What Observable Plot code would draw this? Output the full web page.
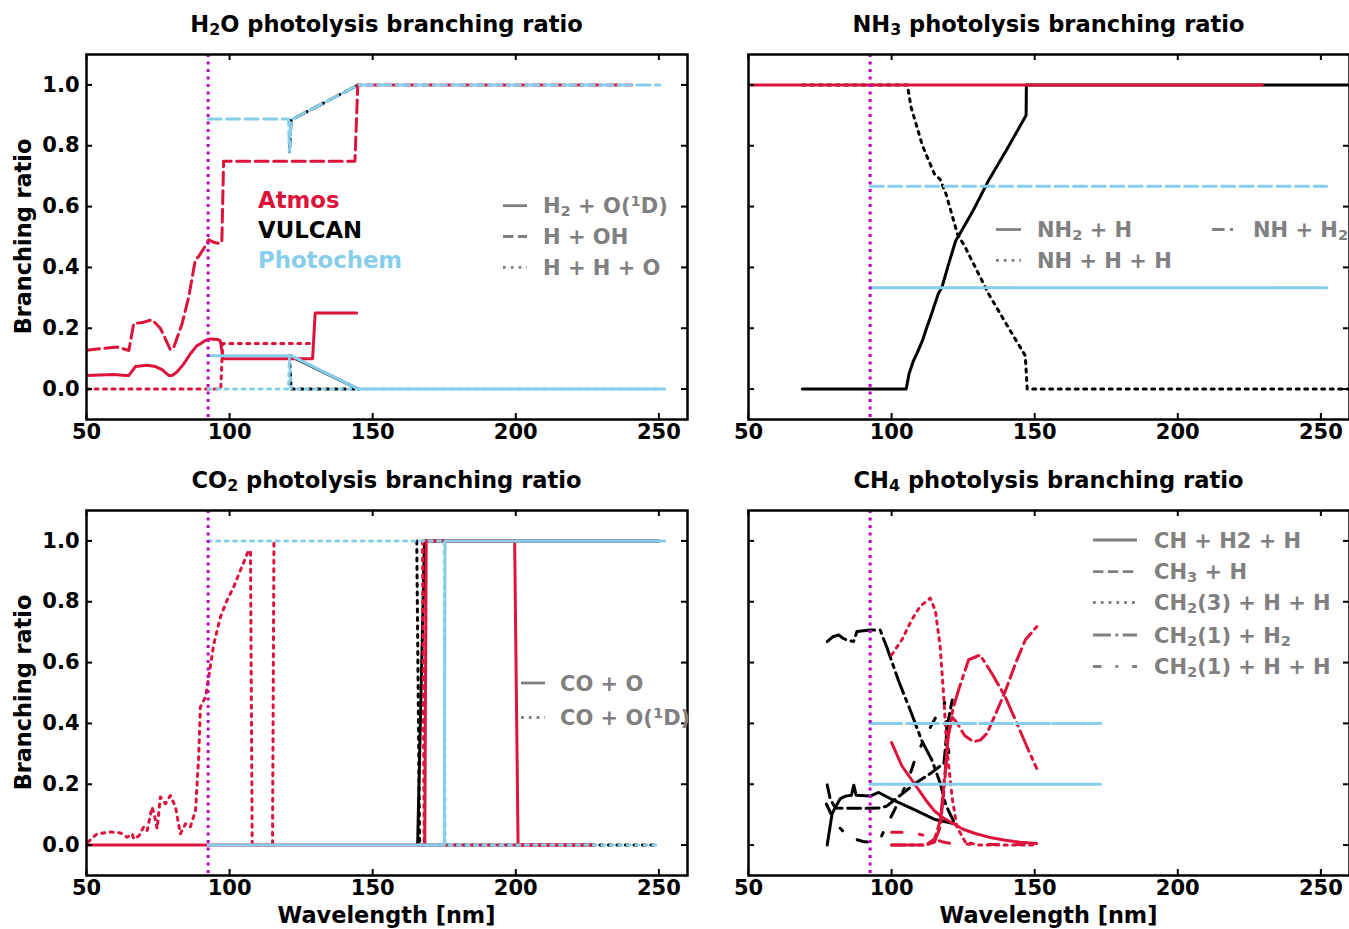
<!DOCTYPE html>
<html>
<head>
<meta charset="utf-8">
<script src="https://cdn.jsdelivr.net/npm/d3@7"></script>
<script src="https://cdn.jsdelivr.net/npm/@observablehq/plot@0.6"></script>
<style>
  html, body { margin: 0; padding: 0; background: #fff; overflow: hidden; }
  #fig { position: relative; width: 1349px; height: 929px; overflow: hidden; background: #fff; }
  #fig svg { position: absolute; overflow: visible; }
</style>
</head>
<body>
<div id="fig"></div>
<script>
// ---------------------------------------------------------------------------
// Axis ticks and reference wavelength
// ---------------------------------------------------------------------------
const X_TICKS = [50, 100, 150, 200, 250];
const Y_TICKS = [0, 0.2, 0.4, 0.6, 0.8, 1.0];
const LYMAN_CUTOFF = [92.5];

// Text
const TITLES = [
  "H_2O photolysis branching ratio",
  "NH_3 photolysis branching ratio",
  "CO_2 photolysis branching ratio",
  "CH_4 photolysis branching ratio"
];
const MODEL_NAMES = ["Atmos", "VULCAN", "Photochem"];
const H2O_CHANNELS = ["H_2 + O(^1D)", "H + OH", "H + H + O"];
const NH3_CHANNELS = ["NH_2 + H", "NH + H + H", "NH + H_2"];
const CO2_CHANNELS = ["CO + O", "CO + O(^1D)"];
const CH4_CHANNELS = ["CH + H2 + H", "CH_3 + H", "CH_2(3) + H + H", "CH_2(1) + H_2", "CH_2(1) + H + H"];
const Y_LABEL = "Branching ratio";
const X_LABEL = "Wavelength [nm]";

// ---------------------------------------------------------------------------
// H2O  [wavelength nm, branching ratio]
// ---------------------------------------------------------------------------
const h2oAtmosH2O1D = [[50,0.045],[59.5,0.048],[63.6,0.045],[64.8,0.045],[67.1,0.074],[71.2,0.078],[74.1,0.074],[76.4,0.064],[78.7,0.045],[79.9,0.045],[81.6,0.056],[84,0.083],[86.3,0.116],[88.6,0.143],[89.8,0.149],[91.5,0.16],[93.3,0.165],[95.6,0.163],[96.7,0.16],[97.3,0.127],[97.7,0.1],[129,0.1],[129.9,0.25],[144.4,0.25]];
const h2oAtmosHOH = [[50,0.128],[54.9,0.133],[60.7,0.138],[64.8,0.127],[66.5,0.215],[70,0.22],[72.9,0.228],[75.8,0.2],[78.1,0.154],[79.3,0.129],[80.5,0.138],[83.4,0.215],[85.7,0.302],[88,0.423],[89.2,0.436],[90.9,0.461],[92.7,0.491],[94.4,0.483],[96.7,0.478],[97.3,0.488],[97.9,0.749],[143.8,0.749],[144.8,1.0],[240.5,1.0]];
const h2oAtmosHHO = [[50,0],[96.9,0],[97.6,0.15],[129,0.15]];
const h2oVulcanH2O1D = [[121,0.11],[145,0]];
const h2oVulcanHOH = [[120.9,0.78],[121.5,0.885],[145,1.0]];
const h2oVulcanHHO = [[120.9,0.11],[121.5,0],[145,0]];
const h2oPhotoH2O1D = [[92.5,0.11],[121.5,0.11],[145,0],[252,0]];
const h2oPhotoHOH = [[92.5,0.888],[120.6,0.888],[120.9,0.78],[121.5,0.885],[145,1.0],[250.3,1.0]];
const h2oPhotoHHO = [[92.5,0],[120.6,0],[120.9,0.11],[121.5,0],[250,0]];

// ---------------------------------------------------------------------------
// NH3
// ---------------------------------------------------------------------------
const nh3AtmosNH2H = [[50,1],[229.5,1]];
const nh3VulcanNH2H = [[68.8,0],[105.1,0],[106.1,0.05],[107.5,0.09],[108.8,0.116],[110.8,0.16],[112.2,0.2],[113.6,0.237],[116.3,0.313],[117.6,0.335],[120.3,0.423],[122.4,0.488],[123.8,0.51],[128.5,0.587],[133.9,0.686],[140.7,0.795],[147,0.9],[147.1,1.0],[260,1.0]];
const nh3VulcanNHHH = [[68.8,1],[105.5,1],[106.8,0.927],[110.8,0.8],[114.9,0.708],[116.9,0.69],[119,0.642],[123,0.51],[125.7,0.467],[129.8,0.39],[133.9,0.313],[140.7,0.204],[146.7,0.11],[147.4,0],[260,0]];
const nh3PhotoSolid = [[92.5,0.333],[252,0.333]];
const nh3PhotoDashed = [[92.5,0.667],[252,0.667]];

// ---------------------------------------------------------------------------
// CO2
// ---------------------------------------------------------------------------
const co2AtmosCOO = [[50,0],[168.2,0],[168.7,1],[199.6,1],[200.8,0],[227,0]];
const co2AtmosCOO1D = [[50.5,0.01],[53.7,0.037],[58.4,0.043],[61.9,0.04],[64.2,0.026],[66,0.037],[66.5,0.02],[68.3,0.03],[70,0.06],[71.2,0.048],[72.9,0.125],[73.7,0.1],[74.7,0.054],[75.8,0.158],[77.6,0.136],[79.3,0.163],[81.1,0.125],[82.8,0.037],[84.6,0.07],[86.3,0.06],[88.1,0.114],[89.2,0.29],[89.8,0.454],[91.6,0.487],[92.7,0.553],[94.5,0.662],[96.8,0.75],[99.1,0.805],[101.5,0.85],[103.8,0.904],[106.7,0.97],[107.3,0.965],[107.9,0],[115,0],[115.5,1],[140,NaN],[167.4,1],[168,0],[227,0]];
const co2VulcanCOO = [[165.7,0],[168.1,1],[250,1]];
const co2VulcanCOO1D = [[165.4,1],[166.4,0],[250,0]];
const co2PhotoCOO = [[92.5,0],[175,0],[175.3,1],[252,1]];
const co2PhotoCOO1D = [[92.5,1],[175,1],[175.3,0],[250,0]];

// ---------------------------------------------------------------------------
// CH4
// ---------------------------------------------------------------------------
const ch4AtmosCHH2H = [[100,0.337],[103.6,0.26],[108.1,0.2],[111.8,0.15],[114.9,0.113],[118,0.09],[121.6,0.07],[125,0.052],[129.2,0.038],[134,0.026],[139.7,0.016],[145,0.009],[150.7,0.005]];
const ch4AtmosCH3H = [[100,0],[112,0],[115,0.02],[117,0.08],[118.5,0.22],[119.8,0.36],[121.2,0.42],[123,0.4],[125.5,0.36],[128.6,0.34],[131,0.345],[133.3,0.367],[136.2,0.428],[139.7,0.505],[143.2,0.595],[146.7,0.674],[150.7,0.718]];
const ch4AtmosCH2tHH = [[100,0.625],[103.6,0.675],[107,0.74],[110,0.785],[113.5,0.812],[115.3,0.77],[117,0.65],[118.2,0.49],[119.3,0.32],[121.1,0.16],[122.8,0.06],[125.7,0.011],[130.3,0],[150.7,0]];
const ch4AtmosCH2sH2 = [[100,0],[112,0],[115,0.01],[117,0.06],[118.5,0.2],[119.8,0.36],[121.5,0.45],[123.4,0.51],[126.9,0.609],[130.9,0.625],[135,0.565],[139.7,0.488],[144.3,0.389],[147.8,0.3125],[150.7,0.252]];
const ch4AtmosCH2sHH = [[100,0.042],[104,0.042],[108,0.04],[112,0.03],[115,0.02],[118,0.01],[121,0.005],[130,0.002],[150.7,0.002]];
const ch4VulcanCHH2H = [[77.5,0],[79.2,0.103],[80.4,0.125],[82.1,0.153],[83.9,0.161],[86,0.164],[86.8,0.197],[87.6,0.164],[92.5,0.161],[95.5,0.173],[99.5,0.153],[108.3,0.115],[115.2,0.084],[121.6,0.071]];
const ch4VulcanCH3H = [[77.5,0.198],[78.6,0.15],[80.4,0.122],[85,0.121],[92.5,0.121],[96,0.122],[98.3,0.128],[102.4,0.159],[108.3,0.203],[114,0.238],[118.3,0.27],[119.6,0.4],[121.2,0.477]];
const ch4VulcanCH2sH2 = [[77.5,0.669],[79.5,0.685],[81.5,0.691],[83,0.68],[84.4,0.674],[86.7,0.669],[87.9,0.702],[92.5,0.707],[96,0.707],[98.3,0.651],[102.4,0.541],[107,0.432],[110.5,0.344],[114.1,0.279],[117,0.203],[119,0.13],[121.6,0.08]];
const ch4VulcanCH2sHH = [[77.2,0.135],[79.5,0.09],[81.8,0.058],[84,0.035],[87,0.02],[90,0.012],[94,0.007],[96,0.02],[97.5,0.05],[101,0.115],[105.6,0.21],[108.5,0.29],[111.8,0.357],[115.3,0.418],[117.6,0.44],[118.5,0.47],[120,0.3],[121.6,0.25]];
const ch4PhotoCHH2H = [[92.5,0.2],[173,0.2]];
const ch4PhotoCH3H = [[92.5,0.4],[173,0.4]];
const ch4PhotoCH2sH2 = [[92.5,0.4],[173,0.4]];

// ---------------------------------------------------------------------------
// Styles
// ---------------------------------------------------------------------------
const ATMOS = "#DC143C", VULCAN = "#000000", PHOTO = "#87CEEB", MAGENTA = "#C000C8", LEGEND_GRAY = "#808080";
const MODEL_COLORS = [ATMOS, VULCAN, PHOTO];
const DASH = {
  solid: null,
  dashed: "13,5.5",
  dotted: "3,5.5",
  dashdot: "22,5.5,3.5,5.5",
  loosedashdot: "10.5,17.5,3.5,17.5"
};
const LEGEND_DASH = {
  solid: null,
  dashed: "10.4,4.5",
  dotted: "2.8,5",
  dashdot: "17.9,4.5,2.8,4.5",
  shortdashdot: "12.5,5.5,3,5",
  loosedashdot: "8.4,14,2.8,14"
};
const FONT = "'DejaVu Sans', 'Liberation Sans', sans-serif";
const FS_TICK = 21;
const FS_LEGEND = 21;
const FS_TITLE = 22.6;
const FS_LABEL = 22.4;
const FS_MODEL = 22.8;
const TICK_LEN = 6;

// Append text with _x subscripts and ^x superscripts as tspans
function addRich(textSel, str) {
  let buf = "";
  const flush = () => { if (buf) { textSel.append("tspan").text(buf); buf = ""; } };
  for (let i = 0; i < str.length; i++) {
    const c = str[i];
    if ((c === "_" || c === "^") && i + 1 < str.length) {
      flush();
      textSel.append("tspan")
        .attr("font-size", "70%")
        .attr("baseline-shift", c === "_" ? "-3px" : "7.5px")
        .text(str[i + 1]);
      i++;
    } else buf += c;
  }
  flush();
}

function makePanel(p) {
  const frameW = p.width - p.mL - p.mR;
  const frameH = p.height - p.mT - p.mB;
  const marks = [];
  for (const s of p.series) {
    marks.push(Plot.line(s.data, {
      x: d => d[0], y: d => d[1],
      stroke: s.color, strokeWidth: 3,
      strokeDasharray: DASH[s.dash],
      strokeLinejoin: "round",
      clip: true
    }));
  }
  marks.push(Plot.ruleX(LYMAN_CUTOFF, {x: d => d, stroke: MAGENTA, strokeWidth: 3, strokeDasharray: "3,4.5"}));
  const tick = {stroke: "black", strokeWidth: 2};
  marks.push(Plot.ruleX(X_TICKS, {x: d => d, insetBottom: frameH - TICK_LEN, ...tick}));
  marks.push(Plot.ruleX(X_TICKS, {x: d => d, insetTop: frameH - TICK_LEN, ...tick}));
  marks.push(Plot.ruleY(Y_TICKS, {y: d => d, insetRight: frameW - TICK_LEN, ...tick}));
  marks.push(Plot.ruleY(Y_TICKS, {y: d => d, insetLeft: frameW - TICK_LEN, ...tick}));
  marks.push(Plot.frame({stroke: "black", strokeWidth: 2.5}));

  const svg = Plot.plot({
    width: p.width, height: p.height,
    marginLeft: p.mL, marginRight: p.mR, marginTop: p.mT, marginBottom: p.mB,
    style: {fontFamily: FONT, fontSize: FS_TICK + "px", fontWeight: "bold", color: "black", background: "white", overflow: "visible"},
    x: {domain: [50, 260], ticks: X_TICKS, tickSize: 0, tickPadding: 5, label: null, tickFormat: d => String(d)},
    y: {domain: [-0.1, 1.1], ticks: Y_TICKS, tickSize: 0, tickPadding: 7, label: null,
        tickFormat: d3.format(".1f"), axis: p.yLabels ? "left" : null},
    marks
  });
  svg.style.left = p.left + "px";
  svg.style.top = p.top + "px";
  document.getElementById("fig").appendChild(svg);

  const g = d3.select(svg).append("g")
    .attr("transform", `translate(${-p.left},${-p.top})`)
    .attr("font-family", FONT).attr("font-weight", "bold")
    .attr("text-anchor", "start");
  const cx = p.left + p.mL + frameW / 2;
  const cy = p.top + p.mT + frameH / 2;

  // title
  addRich(g.append("text").attr("x", cx).attr("y", p.top + p.titleY)
    .attr("text-anchor", "middle").attr("font-size", FS_TITLE).attr("fill", "black"), p.title);
  // axis titles
  if (p.yLabels) {
    g.append("text").attr("transform", `translate(31,${cy}) rotate(-90)`)
      .attr("text-anchor", "middle").attr("font-size", FS_LABEL).attr("fill", "black").text(Y_LABEL);
  }
  if (p.xLabel) {
    g.append("text").attr("x", cx).attr("y", 923)
      .attr("text-anchor", "middle").attr("font-size", FS_LABEL).attr("fill", "black").text(X_LABEL);
  }
  // channel (line style) legend
  for (const e of p.legend) {
    g.append("line").attr("x1", e.x).attr("x2", e.x + e.len).attr("y1", e.y).attr("y2", e.y)
      .attr("stroke", LEGEND_GRAY).attr("stroke-width", 2.8)
      .attr("stroke-dasharray", LEGEND_DASH[e.dash]);
    addRich(g.append("text").attr("x", e.tx).attr("y", e.y + 7.5)
      .attr("font-size", FS_LEGEND).attr("fill", LEGEND_GRAY), e.label);
  }
  // model legend
  if (p.models) {
    MODEL_NAMES.forEach((name, i) => {
      g.append("text").attr("x", 258).attr("y", 207.5 + 30.2 * i)
        .attr("font-size", FS_MODEL).attr("fill", MODEL_COLORS[i]).text(name);
    });
  }
}

const S = (data, color, dash) => ({data, color, dash});

// H2O panel
makePanel({
  left: 0, top: 0, width: 700, height: 460, mL: 86, mR: 13, mT: 54, mB: 41,
  yLabels: true, xLabel: false, titleY: 31.7, title: TITLES[0], models: true,
  series: [
    S(h2oVulcanH2O1D, VULCAN, "solid"), S(h2oVulcanHOH, VULCAN, "dashed"), S(h2oVulcanHHO, VULCAN, "dotted"),
    S(h2oAtmosH2O1D, ATMOS, "solid"), S(h2oAtmosHOH, ATMOS, "dashed"), S(h2oAtmosHHO, ATMOS, "dotted"),
    S(h2oPhotoH2O1D, PHOTO, "solid"), S(h2oPhotoHOH, PHOTO, "dashed"), S(h2oPhotoHHO, PHOTO, "dotted")
  ],
  legend: [
    {x: 503, len: 24, y: 205.7, tx: 543, dash: "solid", label: H2O_CHANNELS[0]},
    {x: 503, len: 24, y: 236.5, tx: 543, dash: "dashed", label: H2O_CHANNELS[1]},
    {x: 503, len: 24, y: 267.3, tx: 543, dash: "dotted", label: H2O_CHANNELS[2]}
  ]
});

// NH3 panel
makePanel({
  left: 700, top: 0, width: 652, height: 460, mL: 48, mR: 3, mT: 54, mB: 41,
  yLabels: false, xLabel: false, titleY: 31.7, title: TITLES[1], models: false,
  series: [
    S(nh3VulcanNH2H, VULCAN, "solid"), S(nh3VulcanNHHH, VULCAN, "dotted"),
    S(nh3AtmosNH2H, ATMOS, "solid"),
    S(nh3PhotoSolid, PHOTO, "solid"), S(nh3PhotoDashed, PHOTO, "dashed")
  ],
  legend: [
    {x: 996, len: 25, y: 229.5, tx: 1037, dash: "solid", label: NH3_CHANNELS[0]},
    {x: 996, len: 25, y: 260.3, tx: 1037, dash: "dotted", label: NH3_CHANNELS[1]},
    {x: 1212, len: 24, y: 229.5, tx: 1253, dash: "shortdashdot", label: NH3_CHANNELS[2]}
  ]
});

// CO2 panel
makePanel({
  left: 0, top: 460, width: 700, height: 469, mL: 86, mR: 13, mT: 50, mB: 54,
  yLabels: true, xLabel: true, titleY: 27.7, title: TITLES[2], models: false,
  series: [
    S(co2VulcanCOO, VULCAN, "solid"), S(co2VulcanCOO1D, VULCAN, "dotted"),
    S(co2AtmosCOO, ATMOS, "solid"), S(co2AtmosCOO1D, ATMOS, "dotted"),
    S(co2PhotoCOO, PHOTO, "solid"), S(co2PhotoCOO1D, PHOTO, "dotted")
  ],
  legend: [
    {x: 521, len: 24, y: 683, tx: 560, dash: "solid", label: CO2_CHANNELS[0]},
    {x: 521, len: 24, y: 717.5, tx: 560, dash: "dotted", label: CO2_CHANNELS[1]}
  ]
});

// CH4 panel
makePanel({
  left: 700, top: 460, width: 652, height: 469, mL: 48, mR: 3, mT: 50, mB: 54,
  yLabels: false, xLabel: true, titleY: 27.7, title: TITLES[3], models: false,
  series: [
    S(ch4VulcanCHH2H, VULCAN, "solid"), S(ch4VulcanCH3H, VULCAN, "dashed"),
    S(ch4VulcanCH2sH2, VULCAN, "dashdot"), S(ch4VulcanCH2sHH, VULCAN, "loosedashdot"),
    S(ch4AtmosCHH2H, ATMOS, "solid"), S(ch4AtmosCH3H, ATMOS, "dashed"), S(ch4AtmosCH2tHH, ATMOS, "dotted"),
    S(ch4AtmosCH2sH2, ATMOS, "dashdot"), S(ch4AtmosCH2sHH, ATMOS, "loosedashdot"),
    S(ch4PhotoCHH2H, PHOTO, "solid"), S(ch4PhotoCH3H, PHOTO, "dashed"), S(ch4PhotoCH2sH2, PHOTO, "dashdot")
  ],
  legend: [
    {x: 1093, len: 44, y: 540, tx: 1154, dash: "solid", label: CH4_CHANNELS[0]},
    {x: 1093, len: 44, y: 571.7, tx: 1154, dash: "dashed", label: CH4_CHANNELS[1]},
    {x: 1093, len: 44, y: 602.5, tx: 1154, dash: "dotted", label: CH4_CHANNELS[2]},
    {x: 1093, len: 44, y: 635, tx: 1154, dash: "dashdot", label: CH4_CHANNELS[3]},
    {x: 1093, len: 44, y: 666.5, tx: 1154, dash: "loosedashdot", label: CH4_CHANNELS[4]}
  ]
});
</script>
</body>
</html>
